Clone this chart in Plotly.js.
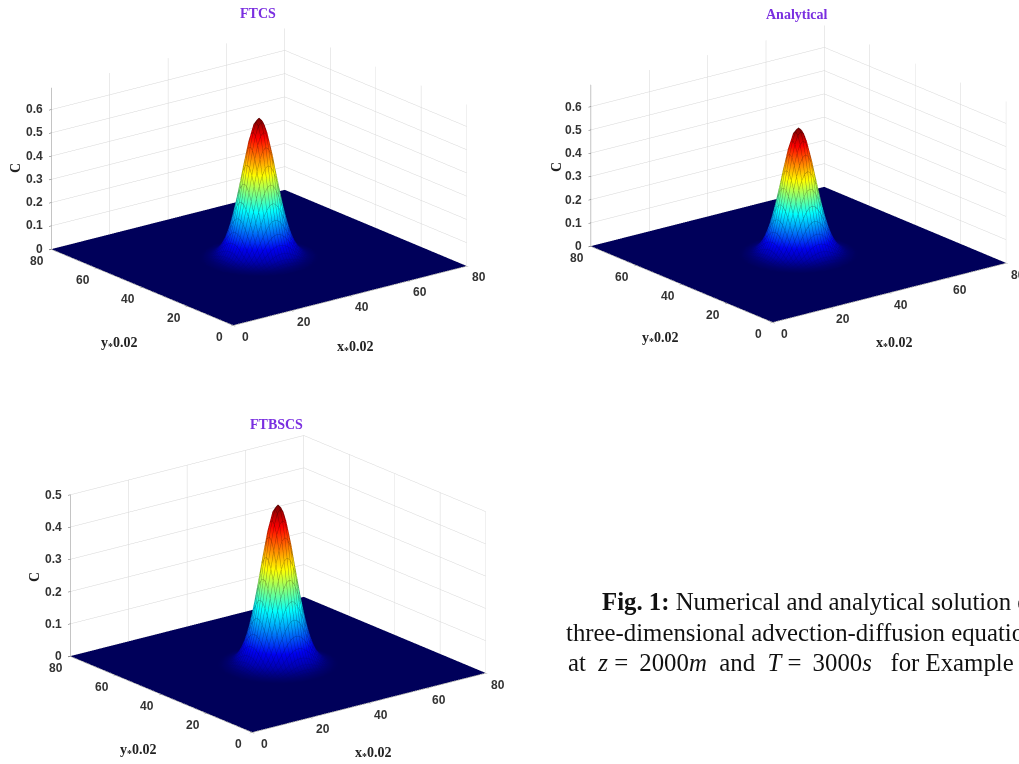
<!DOCTYPE html>
<html><head><meta charset="utf-8">
<script src="https://cdn.plot.ly/plotly-3.0.1.min.js"></script>
<style>html,body{margin:0;padding:0;background:#fff;overflow:hidden}#g{width:1019px;height:764px}</style>
</head><body><div id="g"></div>
<script>
const gridX = [0,1,2,3,4,5,6,7,8,9,10,11,12,13,14,15,16,17,18,19,20,21,22,23,24,25,26,27,28,29,30,31,32,33,34,35,36,37,38,39,40,41,42,43,44,45,46,47,48,49,50,51,52,53,54,55,56,57,58,59,60,61,62,63,64,65,66,67,68,69,70,71,72,73,74,75,76,77,78,79,80];
const gridY = gridX;
// cross-section through the peak (share of peak height)
const crossFTCS = [0,0,0,0,0,0,0,0,0,0,0,0,0,0,0,0,0,0,0,0,.0001,.0002,.0005,.0011,.0024,.005,.010,.018,.033,.057,.094,.148,.220,.314,.427,.554,.685,.809,.910,.977,1,.977,.910,.809,.685,.554,.427,.314,.220,.148,.094,.057,.033,.018,.010,.005,.0024,.0011,.0005,.0002,.0001,0,0,0,0,0,0,0,0,0,0,0,0,0,0,0,0,0,0,0,0];
const crossAnalytical = crossFTCS;
const crossFTBSCS = [0,0,0,0,0,0,0,0,0,0,0,0,0,0,0,0,0,0,0,0,.0001,.0003,.0007,.0015,.003,.006,.012,.021,.036,.061,.098,.152,.225,.320,.430,.558,.690,.812,.912,.978,1,.978,.912,.812,.690,.558,.430,.320,.225,.152,.098,.061,.036,.021,.012,.006,.003,.0015,.0007,.0003,.0001,0,0,0,0,0,0,0,0,0,0,0,0,0,0,0,0,0,0,0,0];
const peakFTCS = 0.60, peakAnalytical = 0.545, peakFTBSCS = 0.495;
const zTicksA = [0,0.1,0.2,0.3,0.4,0.5,0.6];
const zTicksB = [0,0.1,0.2,0.3,0.4,0.5];
const xyTicks = [0,20,40,60,80];

const jet = [[0,'#00005a'],[0.02,'#00007a'],[0.06,'#0000b0'],[0.13,'#0000f0'],[0.375,'#00ffff'],[0.625,'#ffff00'],[0.875,'#ff0000'],[1,'#800000']];
const jetDark = [[0,'#00005a'],[0.06,'#000090'],[0.13,'#0000b0'],[0.375,'#009aaa'],[0.625,'#aaaa00'],[0.875,'#aa0000'],[1,'#500000']];
const eyeDir = {x:-0.581,y:-0.746,z:0.326};
const aspect = {x:1.74,y:1.74,z:1.006};
function matrix(cross, peak){ return cross.map(a => cross.map(b => a*b*peak)); }
function surf(cross, peak, scene){
  return {type:'surface', scene, x:gridX, y:gridY, z:matrix(cross,peak), colorscale:jet, cmin:0, cmax:peak, showscale:false,
    lighting:{ambient:1,diffuse:0,specular:0,roughness:1,fresnel:0},
    hoverinfo:'skip'};
}
// mesh lines on the raised part, nudged a hair towards the camera so they sit in front of the surface
function mesh(cross, peak, scene, zr){
  const m=matrix(cross,peak), lx=[],ly=[],lz=[], e=0.012;
  const bx=eyeDir.x*e*80/aspect.x, by=eyeDir.y*e*80/aspect.y, bz=eyeDir.z*e*(zr[1]-zr[0])/aspect.z;
  const brk=()=>{ if(lx.length&&lx[lx.length-1]!==null){lx.push(null);ly.push(null);lz.push(null);} };
  const add=(x,y,z)=>{ if(z>0.002){lx.push(x+bx);ly.push(y+by);lz.push(z+bz);} else brk(); };
  gridX.forEach((xv,i)=>{ gridY.forEach((yv,j)=>add(xv,yv,m[j][i])); brk(); });
  gridY.forEach((yv,j)=>{ gridX.forEach((xv,i)=>add(xv,yv,m[j][i])); brk(); });
  return {type:'scatter3d',mode:'lines',scene,x:lx,y:ly,z:lz,showlegend:false,hoverinfo:'skip',connectgaps:false,
    line:{width:1,color:lz.map(v=>v===null?0:v),colorscale:jetDark,cmin:0,cmax:peak,showscale:false}};
}
function axis(tickvals, range){
  return {range, tickvals, autorange:false, showticklabels:false, showbackground:false, showgrid:true, gridcolor:'#d6d6d6', gridwidth:1,
    showline:true, linecolor:'#888', linewidth:1, zeroline:false, ticks:'outside', ticklen:3, tickcolor:'#666',
    title:{text:''}, showspikes:false};
}
const tickFont={family:'Liberation Sans',size:12,color:'#333',weight:'bold'};
function scene(dom, zt, zr){
  const anns=[], base={showarrow:false,font:tickFont,xanchor:'center',yanchor:'middle'};
  zt.forEach(t=>anns.push({...base,x:0,y:80,z:t,text:'<b>'+t+'</b>',xshift:t>0?-17:-12,yshift:0}));
  xyTicks.forEach(t=>{
    anns.push({...base,x:0,y:t,z:0,text:'<b>'+t+'</b>',xshift:-14,yshift:-12});
    anns.push({...base,x:t,y:0,z:0,text:'<b>'+t+'</b>',xshift:12,yshift:-12});
  });
  return {domain:dom, bgcolor:'#fff', aspectmode:'manual', aspectratio:aspect, annotations:anns,
    camera:{projection:{type:'orthographic'}, center:{x:0,y:0,z:0}, eye:{x:eyeDir.x*3,y:eyeDir.y*3,z:eyeDir.z*3}, up:{x:0,y:0,z:1}},
    xaxis:axis(xyTicks,[0,80]), yaxis:axis(xyTicks,[0,80]), zaxis:axis(zt,zr)};
}
const W=1019,H=764;
function dom(cx,cy,w,h){return {x:[(cx-w/2)/W,Math.min(1,(cx+w/2)/W)], y:[1-(cy+h/2)/H,1-(cy-h/2)/H]};}
const serifB={family:'Liberation Serif',size:14,color:'#222',weight:'bold'};
const purple={family:'Liberation Serif',size:14,color:'#7a2fe0',weight:'bold'};
const cap={family:'Liberation Serif',size:24.8,color:'#111'};
function ann(text,px,py,font,anchor){return {text,x:px/W,y:1-py/H,xref:'paper',yref:'paper',showarrow:false,font,xanchor:anchor||'center',yanchor:'middle'};}
const annotations=[
 ann('<b>FTCS</b>',258,13,purple), ann('<b>Analytical</b>',797,14,purple), ann('<b>FTBSCS</b>',276,424,purple),
 ann('<b>C</b>',15,168,serifB), ann('<b>C</b>',557,167,serifB), ann('<b>C</b>',34,577,serifB),
 ann('<b>y<sub>*</sub>0.02</b>',119,343,serifB), ann('<b>x<sub>*</sub>0.02</b>',355,347,serifB),
 ann('<b>y<sub>*</sub>0.02</b>',660,339,serifB), ann('<b>x<sub>*</sub>0.02</b>',894,343,serifB),
 ann('<b>y<sub>*</sub>0.02</b>',138,750,serifB), ann('<b>x<sub>*</sub>0.02</b>',373,753,serifB),
 ann('<b>Fig. 1:</b> Numerical and analytical solution of',600,601,cap,'left'),
 ann('three-dimensional advection-diffusion equation',564,632,cap,'left'),
 ann('at  <i>z</i> = \u20092000<i>m</i>  and  <i>T</i> = \u20093000<i>s</i> \u00a0 for Example 1',566,662,cap,'left')
];
annotations[3].textangle=-90;annotations[4].textangle=-90;annotations[5].textangle=-90;
const rangeA=[-0.0015,0.694], rangeB=[-0.0011,0.5];
const layout={width:W,height:H,margin:{l:0,r:0,t:0,b:0},paper_bgcolor:'#fff',showlegend:false,annotations,
 scene:scene(dom(259,176.5,442,340),zTicksA,rangeA),
 scene2:scene(dom(798.5,174,441,340),zTicksA,rangeA),
 scene3:scene(dom(278,584,442,340),zTicksB,rangeB)};
Plotly.newPlot('g',[surf(crossFTCS,peakFTCS,'scene'),mesh(crossFTCS,peakFTCS,'scene',rangeA),surf(crossAnalytical,peakAnalytical,'scene2'),mesh(crossAnalytical,peakAnalytical,'scene2',rangeA),surf(crossFTBSCS,peakFTBSCS,'scene3'),mesh(crossFTBSCS,peakFTBSCS,'scene3',rangeB)],layout,{displayModeBar:false});
</script></body></html>
